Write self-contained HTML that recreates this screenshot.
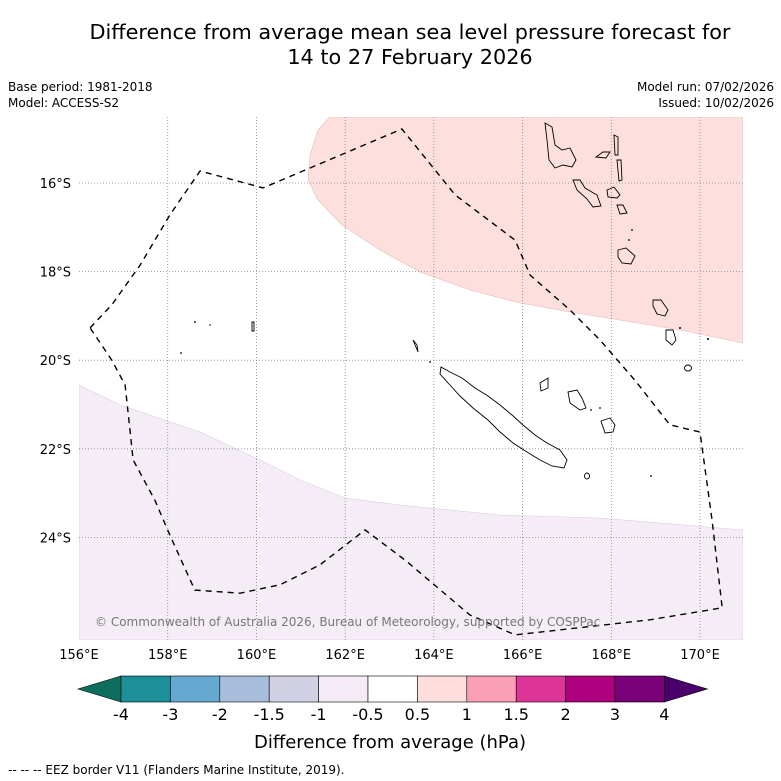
<!DOCTYPE html>
<html><head><meta charset="utf-8"><style>
body{margin:0;background:#fff;font-family:"Liberation Sans","DejaVu Sans",sans-serif}
svg{display:block}
</style></head><body>
<svg width="781" height="781" viewBox="0 0 781 781" font-family="DejaVu Sans, Liberation Sans, sans-serif">
<text x="410" y="39" text-anchor="middle" font-size="20.8">Difference from average mean sea level pressure forecast for</text>
<text x="410" y="64" text-anchor="middle" font-size="20.8">14 to 27 February 2026</text>
<text x="8" y="91" font-size="12">Base period: 1981-2018</text>
<text x="8" y="107" font-size="12">Model: ACCESS-S2</text>
<text x="774" y="91" font-size="12" text-anchor="end">Model run: 07/02/2026</text>
<text x="774" y="107" font-size="12" text-anchor="end">Issued: 10/02/2026</text>
<defs><clipPath id="mc"><rect x="79" y="117" width="664" height="523"/></clipPath></defs>
<g clip-path="url(#mc)">
<path d="M330,117 L318,130 L310,155 L308,180 L318,200 L342,225 L380,250 L420,272 L470,290 L520,303 L570,312 L620,320 L680,330 L743,343 L743,117 Z" fill="#fde0dd" stroke="#e8b8b8" stroke-width="0.6"/>
<path d="M79,385 L120,405 L200,432 L260,460 L300,480 L345,498 L400,505 L500,515 L600,518 L743,530 L743,640 L79,640 Z" fill="#f4edf5" stroke="#d8cce0" stroke-width="0.6"/>
<g id="grid" stroke="#888" stroke-width="0.8" stroke-dasharray="1,2"></g>
<g fill="none" stroke="#000" stroke-width="0.9">
<path d="M441,367 L450,372 L462,378 L475,388 L488,396 L500,405 L512,415 L523,425 L535,435 L547,443 L560,450 L567,460 L564,468 L552,466 L540,460 L527,452 L513,443 L500,432 L488,420 L473,408 L460,396 L449,384 L440,374 Z"/>
<path d="M545,123 L552,127 L555,145 L562,150 L570,148 L576,160 L572,167 L563,165 L555,168 L549,160 L547,140 Z"/>
<path d="M614,135 L618,137 L618,155 L615,155 Z"/>
<path d="M617,160 L621,160 L622,180 L619,181 Z"/>
<path d="M596,157 L603,152 L610,152 L606,158 Z"/>
<path d="M573,180 L580,180 L585,188 L597,195 L601,206 L593,207 L587,199 L577,190 Z"/>
<path d="M607,190 L614,187 L620,195 L617,198 L608,197 Z"/>
<path d="M617,205 L623,205 L627,213 L620,214 Z"/>
<path d="M618,250 L626,248 L635,256 L631,264 L622,263 L618,257 Z"/>
<path d="M653,300 L661,300 L668,310 L665,316 L657,314 L653,306 Z"/>
<path d="M666,330 L673,330 L676,340 L672,345 L666,340 Z"/>
<path d="M540,383 L548,378 L548,388 L541,391 Z"/>
<path d="M568,392 L577,390 L582,398 L586,408 L580,410 L570,403 Z"/>
<path d="M601,421 L610,418 L615,425 L613,432 L605,433 Z"/>
<ellipse cx="688" cy="368" rx="3.5" ry="3"/>
<ellipse cx="587" cy="476" rx="2.5" ry="3"/>
<path d="M252,322 L254,322 L254,331 L252,331 Z"/>
<path d="M413,340 L417,345 L418,352 Z"/>
</g>
<g fill="#000">
<circle cx="195" cy="322" r="0.9"/><circle cx="181" cy="353" r="0.9"/><circle cx="210" cy="325" r="0.8"/>
<circle cx="680" cy="328" r="1"/><circle cx="708" cy="339" r="1"/><circle cx="651" cy="476" r="0.9"/>
<circle cx="591" cy="410" r="0.9"/><circle cx="600" cy="408" r="0.9"/><circle cx="632" cy="230" r="0.9"/><circle cx="629" cy="240" r="0.9"/><circle cx="430" cy="362" r="0.9"/>
</g>
<path id="eez" fill="none" stroke="#000" stroke-width="1.4" stroke-dasharray="6,5"/>
<text x="95" y="626" font-size="12" fill="#777">© Commonwealth of Australia 2026, Bureau of Meteorology, supported by COSPPac</text>
</g>
<g id="ticks" font-size="13"></g>
<g id="cbar"></g>
<text x="390" y="748" text-anchor="middle" font-size="18">Difference from average (hPa)</text>
<text x="8" y="774" font-size="12">--  --  -- EEZ border V11 (Flanders Marine Institute, 2019).</text>
</svg>
<script>
const lonTicks=[156,158,160,162,164,166,168,170];
const latTicks=[16,18,20,22,24];
const eezLon=[156.25,156.74,157.38,158.05,158.73,160.15,163.28,164.48,165.83,166.17,167.07,167.74,168.53,169.32,170.0,170.27,170.5,168.87,165.83,164.81,163.35,162.45,161.43,160.53,159.63,158.61,158.05,157.71,157.22,157.15,157.04,156.74,156.25];
const eezLat=[19.27,18.75,17.85,16.72,15.73,16.11,14.78,16.27,17.29,18.08,18.87,19.54,20.45,21.46,21.62,23.6,25.59,25.86,26.2,25.75,24.51,23.83,24.62,25.07,25.26,25.19,23.95,23.16,22.25,21.58,20.56,20.0,19.27];
const cbLevels=["-4","-3","-2","-1.5","-1","-0.5","0.5","1","1.5","2","3","4"];
const cbColors=["#1b9098","#64a9d0","#a7bddc","#d0d1e5","#f4ecf5","#ffffff","#fddedc","#fa9fb5","#dd3497","#ae017e","#7a0177"];
const cbLow="#0d6e5e", cbHigh="#49006a";
const NS="http://www.w3.org/2000/svg";
const xs=lon=>79+(lon-156)*44.36, ys=lat=>183+(lat-16)*44.3;
function mk(t,a,p){const e=document.createElementNS(NS,t);for(const k in a)e.setAttribute(k,a[k]);p.appendChild(e);return e;}
const grid=document.getElementById('grid'),ticks=document.getElementById('ticks');
lonTicks.forEach(l=>{const x=xs(l);
 if(l>156){const g=mk('line',{x1:x,x2:x,y1:117,y2:640},grid);
 
 }
 const t=mk('text',{x:x,y:659,'text-anchor':'middle'},ticks);t.textContent=l+'°E';
 
 });
latTicks.forEach(l=>{const y=ys(l);
 const g=mk('line',{x1:79,x2:743,y1:y,y2:y},grid);
 
 
 const t=mk('text',{x:71,y:y+5,'text-anchor':'end'},ticks);t.textContent=l+'°S';
 
 });
document.getElementById('eez').setAttribute('d',eezLon.map((l,i)=>(i?'L':'M')+xs(l).toFixed(1)+','+ys(eezLat[i]).toFixed(1)).join(' '));
const cb=document.getElementById('cbar');const x0=121,w=49.4,y0=676,h=26;
const lt=mk('polygon',{points:`${x0},${y0} ${x0},${y0+h} 78,${y0+h/2}`,fill:cbLow,stroke:'#000','stroke-width':0.6},cb);


cbColors.forEach((c,i)=>{const r=mk('rect',{x:x0+i*w,y:y0,width:w,height:h,fill:c,stroke:'#000','stroke-width':0.6},cb);
 
 });
const xe=x0+cbColors.length*w;
const rt=mk('polygon',{points:`${xe},${y0} ${xe},${y0+h} ${xe+43},${y0+h/2}`,fill:cbHigh,stroke:'#000','stroke-width':0.6},cb);


cbLevels.forEach((s,i)=>{const t=mk('text',{x:x0+i*w,y:720,'text-anchor':'middle','font-size':16},cb);t.textContent=s;
 
 });
</script>
</body></html>
